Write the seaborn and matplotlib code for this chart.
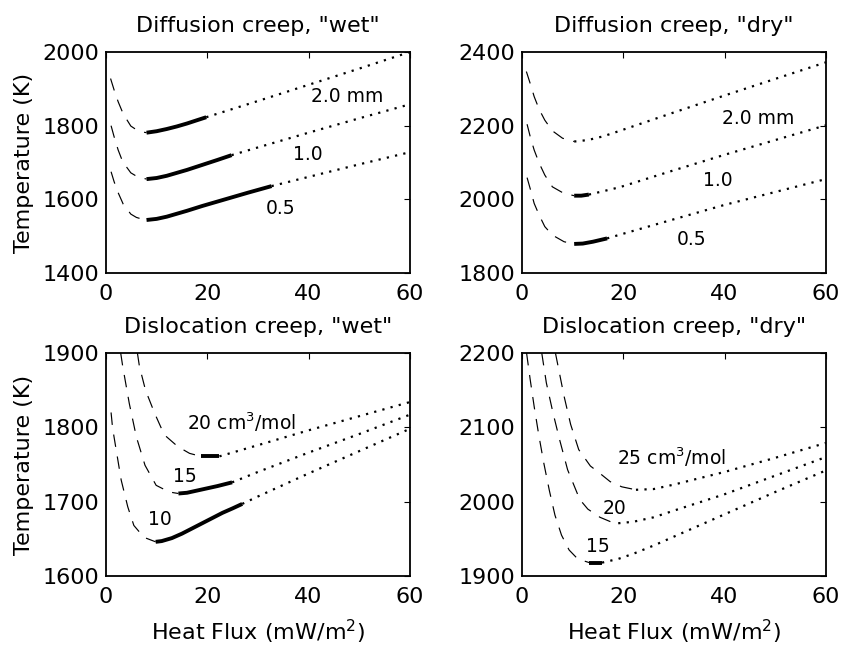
import matplotlib
matplotlib.use("Agg")
import matplotlib.pyplot as plt
import pandas as pd
import seaborn as sns

# ---------------- data ----------------
heat_ticks = [0, 20, 40, 60]

# Diffusion creep, "wet"  (grain size 2.0, 1.0, 0.5 mm)
dw_q_20 = [0.9, 1.6, 2.4, 3.4, 4.9, 6.0, 7.2, 8.0, 10, 12, 14, 16, 18, 19.8, 30, 40, 50, 60]
dw_T_20 = [1928, 1897, 1865, 1832, 1799, 1789, 1783, 1781, 1785, 1791, 1798, 1806, 1815, 1823, 1867, 1911, 1955, 2000]
dw_q_10 = [1.0, 1.6, 2.4, 3.3, 4.9, 6.0, 7.2, 8.0, 10, 12, 14, 16, 18, 20, 22, 24.8, 30, 40, 50, 60]
dw_T_10 = [1800, 1770, 1734, 1702, 1672, 1663, 1658, 1655, 1658, 1664, 1672, 1680, 1689, 1698, 1707, 1720, 1741, 1781, 1820, 1858]
dw_q_05 = [1.0, 1.6, 2.4, 3.4, 4.9, 6.0, 7.2, 8.0, 10, 12, 14, 16, 19, 23, 28, 32.7, 40, 50, 60]
dw_T_05 = [1675, 1648, 1618, 1587, 1560, 1551, 1546, 1544, 1547, 1553, 1561, 1569, 1582, 1598, 1618, 1636, 1661, 1695, 1728]
dw_solid = [(8.0, 19.8), (8.0, 24.8), (8.0, 32.7)]
dw_labels = ["2.0 mm", "1.0", "0.5"]
dw_label_q = [47.6, 39.9, 34.4]
dw_label_T = [1864, 1708, 1559]
dw_yticks = [1400, 1600, 1800, 2000]

# Diffusion creep, "dry"
dd_q_20 = [0.86, 1.7, 2.4, 3.4, 4.5, 6.0, 8.0, 10.3, 13.0, 16.0, 19.3, 30, 40, 50, 60]
dd_T_20 = [2347, 2311, 2279, 2244, 2215, 2186, 2166, 2157, 2161, 2171, 2186, 2236, 2282, 2327, 2372]
dd_q_10 = [1.0, 1.7, 2.4, 3.4, 4.5, 6.0, 8.3, 10.3, 11.7, 13.2, 16.0, 19.3, 30, 40, 50, 60]
dd_T_10 = [2204, 2166, 2134, 2098, 2066, 2034, 2016, 2010, 2010, 2013, 2022, 2033, 2079, 2121, 2161, 2201]
dd_q_05 = [1.0, 1.7, 2.4, 3.4, 4.5, 6.0, 8.3, 10.3, 12.0, 14.0, 16.8, 19.3, 30, 40, 50, 60]
dd_T_05 = [2059, 2025, 1989, 1957, 1926, 1903, 1885, 1879, 1880, 1885, 1894, 1904, 1946, 1985, 2020, 2055]
dd_solid = [(10.3, 10.3), (10.3, 13.2), (10.3, 16.8)]
dd_labels = ["2.0 mm", "1.0", "0.5"]
dd_label_q = [46.7, 38.6, 33.4]
dd_label_T = [2205, 2035, 1875]
dd_yticks = [1800, 2000, 2200, 2400]

# Dislocation creep, "wet"  (activation volume 10, 15, 20 cm3/mol)
lw_q_10 = [1.0, 1.3, 2.0, 3.0, 4.3, 5.5, 7.5, 9.8, 11, 13, 15, 17, 19, 21, 23, 25, 26.9, 30, 40, 50, 60]
lw_T_10 = [1820, 1799, 1770, 1729, 1693, 1668, 1652, 1646, 1647, 1651, 1657, 1664, 1671, 1678, 1685, 1691, 1697, 1707, 1738, 1768, 1798]
lw_q_15 = [2.9, 3.3, 4.6, 6.0, 7.7, 9.9, 12.5, 14.3, 16, 18, 20, 22, 24.9, 30, 40, 50, 60]
lw_T_15 = [1900, 1882, 1832, 1787, 1749, 1722, 1713, 1711, 1712, 1715, 1718, 1721, 1726, 1740, 1766, 1791, 1817]
lw_q_20 = [6.2, 6.6, 7.8, 9.6, 11.5, 14.2, 16.5, 18.7, 22.4, 30, 40, 50, 60]
lw_T_20 = [1900, 1882, 1850, 1819, 1790, 1774, 1765, 1761, 1761, 1776, 1796, 1815, 1834]
lw_solid = [(9.8, 26.9), (14.3, 24.9), (18.7, 22.4)]
lw_labels = ["10", "15", "20 cm$^3$/mol"]
lw_label_q = [10.7, 15.6, 26.8]
lw_label_T = [1668, 1726, 1796]
lw_yticks = [1600, 1700, 1800, 1900]

# Dislocation creep, "dry"  (activation volume 15, 20, 25 cm3/mol)
ld_q_15 = [0.9, 1.6, 2.4, 3.3, 4.3, 5.4, 6.5, 7.8, 9.3, 11.0, 13.3, 15.8, 19.0, 22.0, 26.0, 30, 40, 50, 60]
ld_T_15 = [2200, 2165, 2128, 2090, 2052, 2015, 1982, 1955, 1935, 1923, 1918, 1918, 1923, 1930, 1941, 1953, 1983, 2013, 2042]
ld_q_20 = [3.9, 4.8, 6.1, 7.4, 9.0, 11.4, 13.0, 15.4, 17.5, 19.0, 22.0, 26.0, 30, 40, 50, 60]
ld_T_20 = [2200, 2160, 2120, 2084, 2043, 2003, 1990, 1979, 1973, 1971, 1973, 1979, 1988, 2010, 2035, 2060]
ld_q_25 = [6.6, 8.3, 9.6, 11.2, 13.5, 15.4, 17.4, 19.7, 22.5, 26.0, 30, 40, 50, 60]
ld_T_25 = [2200, 2142, 2104, 2070, 2048, 2038, 2027, 2020, 2016, 2017, 2023, 2040, 2059, 2079]
ld_solid = [(13.3, 15.8), (19.0, 19.0), (22.5, 22.5)]
ld_labels = ["15", "20", "25 cm$^3$/mol"]
ld_label_q = [15.0, 18.3, 29.6]
ld_label_T = [1932, 1984, 2049]
ld_yticks = [1900, 2000, 2100, 2200]

titles = ['Diffusion creep, "wet"', 'Diffusion creep, "dry"',
          'Dislocation creep, "wet"', 'Dislocation creep, "dry"']
ylabel = "Temperature (K)"
xlabel = "Heat Flux (mW/m$^2$)"

# ---------------- style ----------------
sns.set_theme(style="white")
plt.rcParams['font.family'] = ['DejaVu Sans']
plt.rcParams['mathtext.default'] = 'regular'
plt.rcParams['lines.scale_dashes'] = False

fig = plt.figure(figsize=(8.44, 6.47), dpi=100)
positions = [
    [0.1256, 0.578, 0.360, 0.3416],
    [0.6185, 0.578, 0.360, 0.3416],
    [0.1256, 0.1097, 0.360, 0.3447],
    [0.6185, 0.1097, 0.360, 0.3447],
]

panels = [
    ([(dw_q_20, dw_T_20), (dw_q_10, dw_T_10), (dw_q_05, dw_T_05)], dw_solid,
     dw_labels, dw_label_q, dw_label_T, dw_yticks),
    ([(dd_q_20, dd_T_20), (dd_q_10, dd_T_10), (dd_q_05, dd_T_05)], dd_solid,
     dd_labels, dd_label_q, dd_label_T, dd_yticks),
    ([(lw_q_10, lw_T_10), (lw_q_15, lw_T_15), (lw_q_20, lw_T_20)], lw_solid,
     lw_labels, lw_label_q, lw_label_T, lw_yticks),
    ([(ld_q_15, ld_T_15), (ld_q_20, ld_T_20), (ld_q_25, ld_T_25)], ld_solid,
     ld_labels, ld_label_q, ld_label_T, ld_yticks),
]

DASH = (0, (9.0, 7.0))
DOT = (0, (1.6, 4.5))


def draw_curve(ax, q, T, s0, s1):
    df = pd.DataFrame({"q": q, "T": T})
    dash = df[df.q <= s0]
    solid = df[(df.q >= s0) & (df.q <= s1)]
    dot = df[df.q >= s1]
    common = dict(x="q", y="T", ax=ax, color="black", estimator=None, sort=False, legend=False)
    sns.lineplot(data=dash, linewidth=0.85, linestyle=DASH, **common)
    if len(solid) > 1:
        sns.lineplot(data=solid, linewidth=2.8, solid_capstyle="butt",
                     solid_joinstyle="round", **common)
    sns.lineplot(data=dot, linewidth=1.6, linestyle=DOT, **common)


for i, (pos, (curves, solids, labels, lq, lT, yticks)) in enumerate(zip(positions, panels)):
    ax = fig.add_axes(pos)
    for (q, T), (s0, s1) in zip(curves, solids):
        draw_curve(ax, q, T, s0, s1)
    for lab, x, y in zip(labels, lq, lT):
        ax.text(x, y, lab, ha="center", va="baseline", fontsize=13.5, color="black")
    ax.set_xlim(heat_ticks[0], heat_ticks[-1])
    ax.set_ylim(yticks[0], yticks[-1])
    ax.set_xticks(heat_ticks)
    ax.set_yticks(yticks)
    ax.tick_params(axis="both", which="both", direction="in", length=4, width=0.8,
                   top=True, right=True, labelsize=16, colors="black")
    ax.tick_params(axis="x", pad=8)
    ax.tick_params(axis="y", pad=5)
    for sp in ax.spines.values():
        sp.set_color("black")
        sp.set_linewidth(1.3)
    ax.set_title(titles[i], fontsize=16, pad=14.5, color="black")
    ax.set_xlabel(xlabel if i >= 2 else "", fontsize=16, color="black", labelpad=8)
    ax.set_ylabel(ylabel if i % 2 == 0 else "", fontsize=16, color="black", labelpad=6)
    ax.grid(False)

fig.savefig("out.png", dpi=100, facecolor="white")
